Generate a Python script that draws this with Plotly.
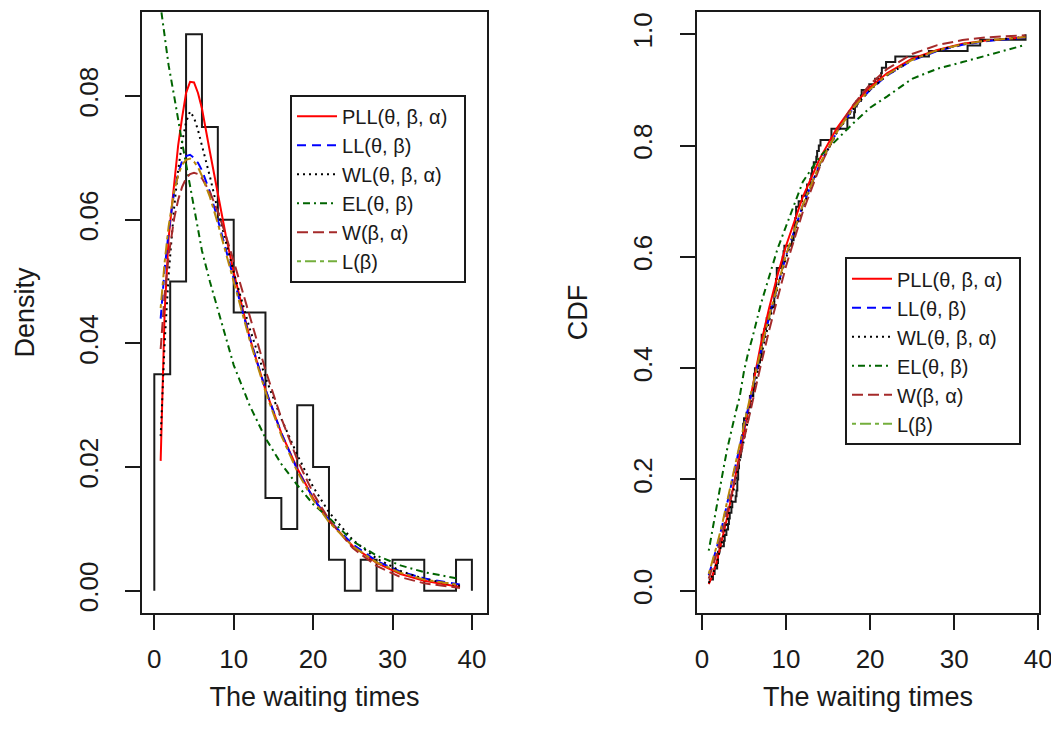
import numpy as np
import plotly.graph_objects as go

# ---------------- data ----------------
waiting_times = [0.8, 0.8, 1.3, 1.5, 1.8, 1.9, 1.9, 2.1, 2.6, 2.7, 2.9, 3.1, 3.2, 3.3, 3.5,
                 3.6, 4.0, 4.1, 4.2, 4.2, 4.3, 4.3, 4.4, 4.4, 4.6, 4.7, 4.7, 4.8, 4.9, 4.9,
                 5.0, 5.3, 5.5, 5.7, 5.7, 6.1, 6.2, 6.2, 6.2, 6.3, 6.7, 6.9, 7.1, 7.1, 7.1,
                 7.1, 7.4, 7.6, 7.7, 8.0, 8.2, 8.6, 8.6, 8.6, 8.8, 8.8, 8.9, 8.9, 9.5, 9.6,
                 9.7, 9.8, 10.7, 10.9, 11.0, 11.0, 11.1, 11.2, 11.2, 11.5, 11.9, 12.4, 12.5,
                 12.9, 13.0, 13.1, 13.3, 13.6, 13.7, 13.9, 14.1, 15.4, 15.4, 17.3, 17.3, 18.1,
                 18.2, 18.4, 18.9, 19.0, 19.9, 20.6, 21.3, 21.4, 21.9, 23.0, 27.0, 31.6, 33.1,
                 38.5]

hist_breaks = [0, 2, 4, 6, 8, 10, 12, 14, 16, 18, 20, 22, 24, 26, 28, 30, 32, 34, 36, 38, 40]
hist_density = [0.035, 0.05, 0.09, 0.075, 0.06, 0.045, 0.045, 0.015, 0.01, 0.03,
                0.02, 0.005, 0.0, 0.005, 0.0, 0.005, 0.005, 0.0, 0.0, 0.005]

x_grid = [0.8, 1.3, 1.8, 2.5, 3.0, 3.5, 4.0, 4.5, 5.0, 5.5, 6.0, 7.0, 8.0, 9.0, 10,
          12, 14, 16, 18, 20, 22, 25, 28, 31, 34, 38.5]

pdf_PLL = [0.021, 0.045, 0.057, 0.066, 0.072, 0.0765, 0.0805, 0.0823, 0.0822, 0.0805, 0.078,
           0.071, 0.064, 0.0575, 0.0515, 0.041, 0.0325, 0.0255, 0.0198, 0.015, 0.0113,
           0.0072, 0.0045, 0.0027, 0.0016, 0.0006]
pdf_LL = [0.044, 0.052, 0.058, 0.0645, 0.0675, 0.0695, 0.0703, 0.0705, 0.070, 0.0692, 0.068,
          0.0645, 0.060, 0.0553, 0.0505, 0.041, 0.0326, 0.0255, 0.0196, 0.015, 0.0114,
          0.0075, 0.0048, 0.0031, 0.002, 0.001]
pdf_WL = [0.025, 0.040, 0.051, 0.062, 0.068, 0.0725, 0.0758, 0.0775, 0.0765, 0.0745, 0.072,
          0.067, 0.0615, 0.0565, 0.0515, 0.0425, 0.0345, 0.0278, 0.022, 0.0168, 0.0127,
          0.0082, 0.0052, 0.0032, 0.0019, 0.0008]
pdf_EL = [0.0945, 0.0895, 0.085, 0.080, 0.076, 0.0725, 0.069, 0.0655, 0.062, 0.0585, 0.055,
          0.050, 0.0455, 0.041, 0.0365, 0.030, 0.0247, 0.0205, 0.0171, 0.014, 0.0118,
          0.0080, 0.0057, 0.0041, 0.0030, 0.0019]
pdf_W = [0.0391, 0.0479, 0.0541, 0.0602, 0.0632, 0.0653, 0.0667, 0.0674, 0.0676, 0.0674, 0.0667,
         0.0645, 0.0613, 0.0575, 0.0533, 0.0443, 0.0357, 0.0279, 0.0212, 0.0158, 0.0115,
         0.0069, 0.0040, 0.0022, 0.0012, 0.00045]
pdf_L = [0.0457, 0.0531, 0.0589, 0.0646, 0.0672, 0.0689, 0.0697, 0.0699, 0.0694, 0.0685, 0.0671,
         0.0637, 0.0594, 0.0547, 0.0499, 0.0406, 0.0322, 0.0251, 0.0193, 0.0147, 0.0111,
         0.0072, 0.0046, 0.0029, 0.0018, 0.0009]

cdf_PLL = [0.012, 0.030, 0.055, 0.097, 0.132, 0.169, 0.208, 0.249, 0.290, 0.331, 0.370, 0.443,
           0.509, 0.568, 0.620, 0.708, 0.776, 0.830, 0.872, 0.905, 0.930, 0.956, 0.972, 0.983,
           0.989, 0.995]
cdf_LL = [0.028, 0.052, 0.080, 0.123, 0.156, 0.190, 0.225, 0.260, 0.295, 0.330, 0.364, 0.430,
          0.492, 0.549, 0.602, 0.693, 0.766, 0.823, 0.867, 0.900, 0.926, 0.953, 0.970, 0.981,
          0.988, 0.994]
cdf_WL = [0.014, 0.030, 0.052, 0.092, 0.125, 0.161, 0.198, 0.236, 0.275, 0.313, 0.350, 0.420,
          0.485, 0.545, 0.598, 0.690, 0.764, 0.822, 0.866, 0.900, 0.926, 0.954, 0.971, 0.982,
          0.989, 0.995]
cdf_EL = [0.072, 0.115, 0.160, 0.215, 0.255, 0.290, 0.320, 0.350, 0.395, 0.428, 0.455, 0.515,
          0.565, 0.615, 0.655, 0.735, 0.780, 0.810, 0.840, 0.868, 0.888, 0.920, 0.938, 0.950,
          0.962, 0.981]
cdf_W = [0.0217, 0.0436, 0.0692, 0.1093, 0.1402, 0.1723, 0.2053, 0.239, 0.2727, 0.3064, 0.3399,
         0.4057, 0.4687, 0.5281, 0.5835, 0.6811, 0.761, 0.8245, 0.8733, 0.9102, 0.9373, 0.9645,
         0.9805, 0.9896, 0.9946, 0.9981]
cdf_L = [0.0303, 0.0552, 0.0833, 0.1266, 0.1597, 0.1937, 0.2284, 0.2633, 0.2982, 0.3327, 0.3666,
         0.432, 0.4937, 0.5508, 0.6031, 0.6936, 0.7663, 0.8233, 0.8675, 0.9014, 0.927, 0.9539,
         0.9712, 0.9821, 0.989, 0.9947]

model_names = ["PLL(θ, β, α)", "LL(θ, β)", "WL(θ, β, α)", "EL(θ, β)", "W(β, α)", "L(β)"]
pdf_series = [pdf_PLL, pdf_LL, pdf_WL, pdf_EL, pdf_W, pdf_L]
cdf_series = [cdf_PLL, cdf_LL, cdf_WL, cdf_EL, cdf_W, cdf_L]

# ---------------- styles ----------------
curve_colors = ["#FF0000", "#0000FF", "#000000", "#006400", "#A52A2A", "#B8860B"]
legend_colors = ["#FF0000", "#0000FF", "#000000", "#006400", "#A52A2A", "#74AE3C"]
dashes = ["solid", "9px,6px", "2px,4px", "2px,4px,7px,4px", "11px,5px", "4px,4px,11px,4px"]
FONT = "Liberation Sans, Arial, sans-serif"
NBSP_PAD = "\u00a0\u00a0"

fig = go.Figure()

# histogram outline (step)
hx = [hist_breaks[0]] + hist_breaks[:-1] + [hist_breaks[-1]]
hy = [0.0] + hist_density + [0.0]
fig.add_trace(go.Scatter(x=hx, y=hy, mode="lines", line=dict(color="#1a1a1a", width=2, shape="hv"),
                         showlegend=False, hoverinfo="skip", xaxis="x", yaxis="y"))

# empirical CDF
vals, counts = np.unique(np.array(waiting_times), return_counts=True)
ecdf = np.cumsum(counts) / len(waiting_times)
fig.add_trace(go.Scatter(x=vals, y=ecdf, mode="lines", line=dict(color="#1a1a1a", width=2, shape="hv"),
                         showlegend=False, hoverinfo="skip", xaxis="x2", yaxis="y2"))

for i, name in enumerate(model_names):
    label = name + (NBSP_PAD if i == 0 else "")
    same = curve_colors[i] == legend_colors[i]
    fig.add_trace(go.Scatter(x=x_grid, y=pdf_series[i], mode="lines", name=label,
                             line=dict(color=curve_colors[i], width=2, dash=dashes[i]),
                             showlegend=same, legend="legend", xaxis="x", yaxis="y"))
    fig.add_trace(go.Scatter(x=x_grid, y=cdf_series[i], mode="lines", name=label,
                             line=dict(color=curve_colors[i], width=2, dash=dashes[i]),
                             showlegend=same, legend="legend2", xaxis="x2", yaxis="y2"))
    if not same:
        for lg in ["legend", "legend2"]:
            fig.add_trace(go.Scatter(x=[None], y=[None], mode="lines", name=label,
                                     line=dict(color=legend_colors[i], width=2, dash=dashes[i]),
                                     showlegend=True, legend=lg,
                                     xaxis="x" if lg == "legend" else "x2",
                                     yaxis="y" if lg == "legend" else "y2"))

axis_common = dict(showgrid=False, zeroline=False, showline=True, mirror=True, linecolor="#1a1a1a",
                   linewidth=2, ticks="outside", ticklen=15, tickwidth=2, tickcolor="#1a1a1a",
                   tickfont=dict(family=FONT, size=26, color="#1a1a1a"))
title_font = dict(family=FONT, size=27, color="#1a1a1a")

fig.update_layout(
    width=1051, height=737,
    margin=dict(l=134, r=20, t=2, b=132),
    paper_bgcolor="white", plot_bgcolor="white",
    font=dict(family=FONT, color="#1a1a1a"),
    xaxis=dict(domain=[0, 0.3846], range=[-1.55, 41.9], tickvals=[0, 10, 20, 30, 40],
               ticklabelstandoff=7,
               title=dict(text="The waiting times", font=title_font, standoff=14),
               anchor="y", **axis_common),
    yaxis=dict(domain=[0, 1], range=[-0.0036, 0.0936], tickvals=[0, 0.02, 0.04, 0.06, 0.08],
               tickformat=".2f", tickangle=-90, ticklabelstandoff=17,
               title=dict(text="Density", font=title_font, standoff=31),
               anchor="x", **axis_common),
    xaxis2=dict(domain=[0.6187, 1.0], range=[-0.6, 40.1], tickvals=[0, 10, 20, 30, 40],
                ticklabelstandoff=7,
                title=dict(text="The waiting times", font=title_font, standoff=14),
                anchor="y2", **axis_common),
    yaxis2=dict(domain=[0, 1], range=[-0.04, 1.04], tickvals=[0, 0.2, 0.4, 0.6, 0.8, 1.0],
                tickformat=".1f", tickangle=-90, ticklabelstandoff=18,
                title=dict(text="CDF", font=title_font, standoff=32),
                anchor="x2", **axis_common),
    legend=dict(x=0.165, y=0.8624, xanchor="left", yanchor="top", bordercolor="#1a1a1a",
                borderwidth=2, bgcolor="white", font=dict(family=FONT, size=20, color="#1a1a1a"),
                tracegroupgap=0, itemwidth=40),
    legend2=dict(x=0.7837, y=0.592, xanchor="left", yanchor="top", bordercolor="#1a1a1a",
                 borderwidth=2, bgcolor="white", font=dict(family=FONT, size=20, color="#1a1a1a"),
                 tracegroupgap=0, itemwidth=40),
)

fig.write_html("out.html")
